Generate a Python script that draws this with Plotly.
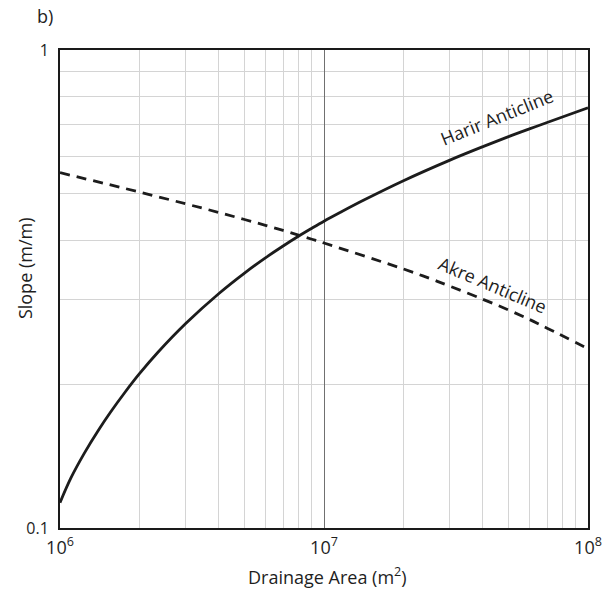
import plotly.graph_objects as go

# Drainage area (m^2) and channel slope (m/m) for the two anticlines
harir_area = [1e6, 1.1e6, 1.24e6, 1.4e6, 1.56e6, 1.76e6, 2e6, 2.35e6, 3e6, 4e6, 5e6, 6e6,
              7e6, 8e6, 9e6, 1e7, 1.15e7, 1.41e7, 2e7, 3e7, 4e7, 5e7, 6e7, 7e7, 1e8]
harir_slope = [0.1130, 0.1273, 0.1438, 0.1604, 0.1753, 0.1921, 0.2103, 0.2332, 0.2681, 0.3095,
               0.3415, 0.3674, 0.3890, 0.4076, 0.4238, 0.4384, 0.4571, 0.4848, 0.5328, 0.5884,
               0.6278, 0.6587, 0.6837, 0.7051, 0.7572]

akre_area = [1e6, 2e6, 3e6, 4e6, 5e6, 6e6, 7e6, 8e6, 9e6, 1e7, 2e7, 2.5e7, 3e7, 4e7,
             5e7, 6e7, 7e7, 1e8]
akre_slope = [0.5538, 0.5044, 0.4765, 0.4571, 0.4420, 0.4298, 0.4194, 0.4100, 0.4019, 0.3946,
              0.3483, 0.3331, 0.3205, 0.3009, 0.2858, 0.2731, 0.2619, 0.2371]

x_ticks = [1e6, 1e7, 1e8]
x_ticklabels = ["10<sup>6</sup>", "10<sup>7</sup>", "10<sup>8</sup>"]
y_ticks = [0.1, 1]
y_ticklabels = ["0.1", "1"]
x_minor = [m * 10 ** e for e in (6, 7) for m in range(2, 10)]
y_minor = [m / 10 for m in range(2, 10)]

FONT = "Open Sans"
INK = "#1c1c1c"

fig = go.Figure()
fig.add_trace(go.Scatter(
    x=harir_area, y=harir_slope, mode="lines", line_shape="spline",
    line=dict(color=INK, width=2.8, smoothing=1.0), name="Harir Anticline", showlegend=False,
))
fig.add_trace(go.Scatter(
    x=akre_area, y=akre_slope, mode="lines", line_shape="spline",
    line=dict(color=INK, width=2.8, dash="10px,7px", smoothing=1.0),
    name="Akre Anticline", showlegend=False,
))

fig.update_layout(
    width=613, height=591,
    margin=dict(l=60, r=25, t=50, b=63),
    paper_bgcolor="white", plot_bgcolor="white",
    font=dict(family=FONT, size=16, color="#1e1e1e"),
    xaxis=dict(
        type="log", range=[6, 8],
        tickvals=x_ticks, ticktext=x_ticklabels,
        tickfont=dict(size=18), ticks="", ticklabelstandoff=2,
        showgrid=True, gridcolor="#707070", gridwidth=1.3,
        minor=dict(tickvals=x_minor, showgrid=True, gridcolor="#d4d4d4", gridwidth=1, ticks=""),
        showline=True, linecolor="#1a1a1a", linewidth=2, mirror=True,
        zeroline=False,
    ),
    yaxis=dict(
        type="log", range=[-1, 0],
        tickvals=y_ticks, ticktext=y_ticklabels,
        tickfont=dict(size=16), ticks="", ticklabelstandoff=6,
        showgrid=False,
        minor=dict(tickvals=y_minor, showgrid=True, gridcolor="#d4d4d4", gridwidth=1, ticks=""),
        showline=True, linecolor="#1a1a1a", linewidth=2, mirror=True,
        zeroline=False,
    ),
    annotations=[
        dict(text="b)", xref="paper", yref="paper", x=-0.028, y=1.072,
             xanchor="center", yanchor="middle", showarrow=False, font=dict(size=18)),
        dict(text="Drainage Area (m<sup>2</sup>)", xref="paper", yref="paper", x=0.507, y=-0.10,
             xanchor="center", yanchor="middle", showarrow=False, font=dict(size=18)),
        dict(text="Slope (m/m)", xref="paper", yref="paper", x=-0.066, y=0.544,
             xanchor="center", yanchor="middle", textangle=-90, showarrow=False,
             font=dict(size=18)),
        dict(text="Harir Anticline", xref="x", yref="y", x=7.655, y=-0.14,
             showarrow=False, textangle=-22, font=dict(size=18)),
        dict(text="Akre Anticline", xref="x", yref="y", x=7.64, y=-0.492,
             showarrow=False, textangle=23, font=dict(size=18)),
    ],
)

fig.write_html("out.html")
